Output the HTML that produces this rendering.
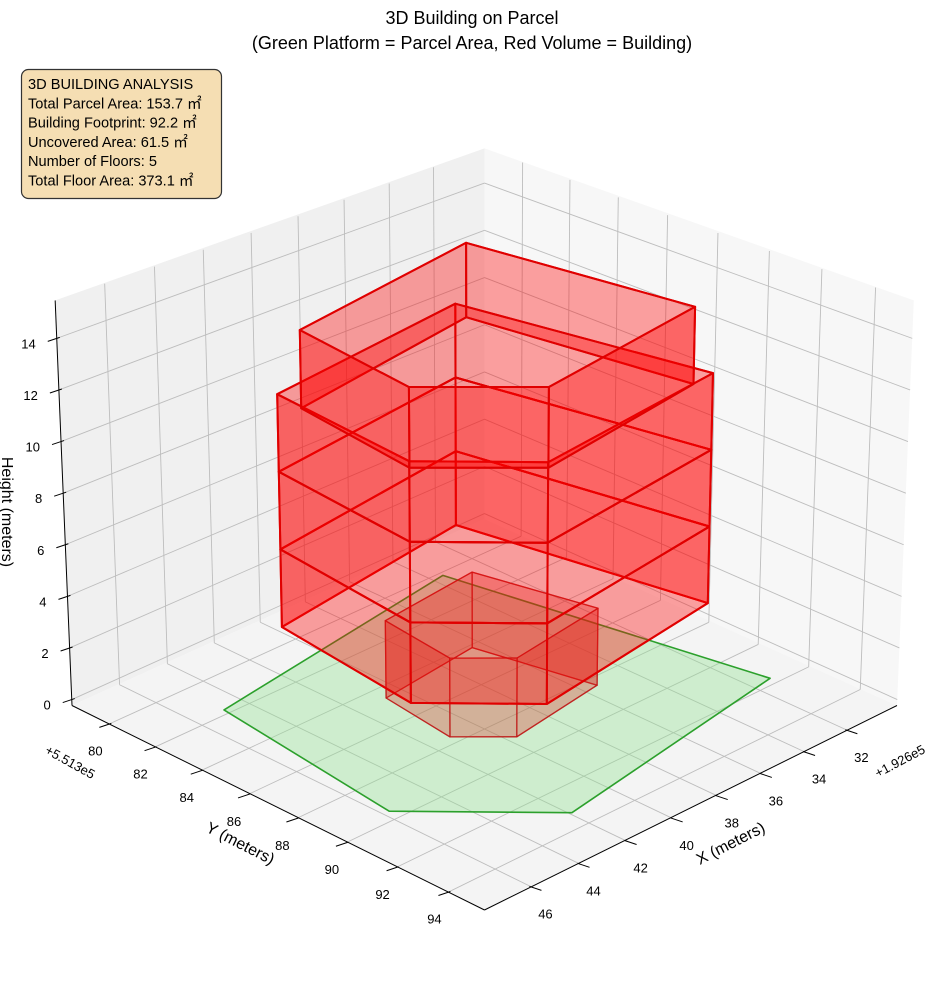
<!DOCTYPE html>
<html><head><meta charset="utf-8"><style>
html,body{margin:0;padding:0;background:#fff;}
svg{display:block;font-family:"Liberation Sans","Noto Sans CJK JP",sans-serif;}
</style></head><body>
<svg id="chart" width="944" height="992" viewBox="0 0 944 992" xmlns="http://www.w3.org/2000/svg">
<g id="panes"></g>
<g id="grid"></g>
<g id="axes"></g>
<g id="marks"></g>
<text x="472" y="24" text-anchor="middle" font-size="18" fill="#000">3D Building on Parcel</text>
<text x="472" y="49" text-anchor="middle" font-size="18" fill="#000">(Green Platform = Parcel Area, Red Volume = Building)</text>
<g>
<rect x="21.5" y="69.5" width="200" height="129" rx="7" fill="#f5deb3" stroke="#333" stroke-width="1.2"/>
<g font-size="14.6" fill="#000">
<text x="28" y="89">3D BUILDING ANALYSIS</text>
<text x="28" y="108.3">Total Parcel Area: 153.7 ㎡</text>
<text x="28" y="127.6">Building Footprint: 92.2 ㎡</text>
<text x="28" y="146.9">Uncovered Area: 61.5 ㎡</text>
<text x="28" y="166.2">Number of Floors: 5</text>
<text x="28" y="185.5">Total Floor Area: 373.1 ㎡</text>
</g></g>
<text transform="translate(2,512) rotate(90)" text-anchor="middle" font-size="16" fill="#000">Height (meters)</text>
<text transform="translate(238,848) rotate(27)" text-anchor="middle" font-size="16" fill="#000">Y (meters)</text>
<text transform="translate(733,848) rotate(-27)" text-anchor="middle" font-size="16" fill="#000">X (meters)</text>
<text transform="translate(68,766) rotate(29)" text-anchor="middle" font-size="13" fill="#000">+5.513e5</text>
<text transform="translate(902,765) rotate(-28)" text-anchor="middle" font-size="13" fill="#000">+1.926e5</text>
</svg>
<script>
// ---- data ----
const xLimits = [29.65, 47.95];
const yLimits = [78.36, 95.4];
const zLimits = [-0.23, 15.47];
const xTicks = [32, 34, 36, 38, 40, 42, 44, 46];
const yTicks = [80, 82, 84, 86, 88, 90, 92, 94];
const zTicks = [0, 2, 4, 6, 8, 10, 12, 14];
const parcelX = [45.03, 33.77, 31.4, 42.14, 45.91];
const parcelY = [81.98, 80.37, 91.9, 93.41, 89.77];
const floor1X = [40.91, 41.29, 39.83, 35.61, 36.61];
const floor1Y = [84.78, 87.80, 89.15, 88.59, 84.32];
const midFloorsX = [43.48, 44.22, 41.40, 32.91, 34.61];
const midFloorsY = [82.96, 89.03, 91.75, 90.63, 81.75];
const topFloorX = [43.70, 44.56, 41.70, 33.96, 35.13];
const topFloorY = [84.18, 89.37, 92.03, 90.77, 82.70];
const floorBase = [0, 3, 6, 9, 12];
const floorHeight = 3;

// ---- projection (axis functions) ----
const NS = 'http://www.w3.org/2000/svg';
const xc = (xLimits[0] + xLimits[1]) / 2, xh = (xLimits[1] - xLimits[0]) / 2;
const yc = (yLimits[0] + yLimits[1]) / 2, yh = (yLimits[1] - yLimits[0]) / 2;
function depthOf(x, y) { return ((y - yc) / yh + (x - xc) / xh) / 2; }
function proj(x, y, z) {
  const a = (x - xc) / xh, b = (y - yc) / yh;
  const t = (a + b) / 2, l = (b - a) / 2;
  const s = 1 / (1 - 0.093 * t);
  const zz = z - zLimits[0];
  const sx = 484.5 + 412.5 * l * s * (1 + 0.0026 * zz);
  const sy = 705.5 + 195.5 * t + 9 * t * t - zz * 25.8 * s;
  return [sx, sy];
}
function ptsStr(list) { return list.map(p => p[0].toFixed(1) + ',' + p[1].toFixed(1)).join(' '); }
function mk(tag, attrs, parent) {
  const e = document.createElementNS(NS, tag);
  for (const k in attrs) e.setAttribute(k, attrs[k]);
  parent.appendChild(e);
  return e;
}
const panes = document.getElementById('panes');
const grid = document.getElementById('grid');
const axes = document.getElementById('axes');
const marks = document.getElementById('marks');
const [x0, x1] = xLimits, [y0, y1] = yLimits, [z0, z1] = zLimits;

let e;
e = mk('polygon', {points: ptsStr([proj(x1,y0,z0), proj(x0,y0,z0), proj(x0,y0,z1), proj(x1,y0,z1)]), fill: '#f0f0f0'}, panes);


e = mk('polygon', {points: ptsStr([proj(x0,y0,z0), proj(x0,y1,z0), proj(x0,y1,z1), proj(x0,y0,z1)]), fill: '#f7f7f7'}, panes);


e = mk('polygon', {points: ptsStr([proj(x1,y1,z0), proj(x1,y0,z0), proj(x0,y0,z0), proj(x0,y1,z0)]), fill: '#f4f4f4'}, panes);



function gline(a, b, name) {
  const l = mk('line', {x1: a[0], y1: a[1], x2: b[0], y2: b[1], stroke: '#bdbdbd', 'stroke-width': 0.9}, grid);
  
  
}
xTicks.forEach(v => {
  gline(proj(v, y0, z0), proj(v, y0, z1), 'grid-x-wall');
  gline(proj(v, y0, z0), proj(v, y1, z0), 'grid-x-floor');
});
yTicks.forEach(v => {
  gline(proj(x0, v, z0), proj(x0, v, z1), 'grid-y-wall');
  gline(proj(x0, v, z0), proj(x1, v, z0), 'grid-y-floor');
});
zTicks.forEach(v => {
  gline(proj(x1, y0, v), proj(x0, y0, v), 'grid-z-left');
  gline(proj(x0, y0, v), proj(x0, y1, v), 'grid-z-right');
});

function aline(a, b, name) {
  const l = mk('line', {x1: a[0], y1: a[1], x2: b[0], y2: b[1], stroke: '#000', 'stroke-width': 1}, axes);
  
  
}
aline(proj(x1, y0, z0), proj(x1, y0, z1), 'z-axis-line');
aline(proj(x1, y0, z0), proj(x1, y1, z0), 'y-axis-line');
aline(proj(x1, y1, z0), proj(x0, y1, z0), 'x-axis-line');
function tlabel(x, y, txt, anchor, name) {
  const t = mk('text', {x: x, y: y, 'text-anchor': anchor, 'font-size': 13, fill: '#000'}, axes);
  t.textContent = txt;
  
  
}
zTicks.forEach(v => {
  const p = proj(x1, y0, v);
  aline([p[0] + 3, p[1] - 1], [p[0] - 9, p[1] + 3], 'z-tick');
  tlabel(p[0] - 21, p[1] + 10, String(v), 'end', 'z-tick-label');
});
yTicks.forEach(v => {
  const p = proj(x1, v, z0);
  aline([p[0] + 3, p[1] - 1], [p[0] - 9, p[1] + 3], 'y-tick');
  tlabel(p[0] - 13, p[1] + 31, String(v), 'middle', 'y-tick-label');
});
xTicks.forEach(v => {
  const p = proj(v, y1, z0);
  aline([p[0] - 3, p[1] - 1], [p[0] + 9, p[1] + 3], 'x-tick');
  tlabel(p[0] + 13, p[1] + 31, String(v), 'middle', 'x-tick-label');
});

// parcel platform
const parcelPts = parcelX.map((x, i) => proj(x, parcelY[i], 0));
e = mk('polygon', {points: ptsStr(parcelPts), fill: 'rgba(144,225,144,0.38)', stroke: '#2ca02c', 'stroke-width': 1.6, 'stroke-linejoin': 'round'}, marks);



// building floors
const faces = [];
function addFloor(fx, fy, zb, idx) {
  const n = fx.length;
  const zt = zb + floorHeight;
  const bottom = [], top = [];
  for (let i = 0; i < n; i++) { bottom.push([fx[i], fy[i], zb]); top.push([fx[i], fy[i], zt]); }
  faces.push({v: bottom, floor: idx, kind: 'bottom'});
  faces.push({v: top, floor: idx, kind: 'top'});
  for (let i = 0; i < n; i++) {
    const j = (i + 1) % n;
    faces.push({v: [bottom[i], bottom[j], top[j], top[i]], floor: idx, kind: 'wall'});
  }
}
floorBase.forEach((zb, i) => {
  if (i === 0) addFloor(floor1X, floor1Y, zb, i);
  else if (i === floorBase.length - 1) addFloor(topFloorX, topFloorY, zb, i);
  else addFloor(midFloorsX, midFloorsY, zb, i);
});
faces.forEach(f => {
  let d = 0, zs = 0;
  f.v.forEach(p => { d += depthOf(p[0], p[1]); zs += p[2]; });
  f.depth = d / f.v.length + zs / f.v.length * 0.001;
});
faces.sort((a, b) => a.depth - b.depth);
faces.forEach(f => {
  const pts = f.v.map(p => proj(p[0], p[1], p[2]));
  const first = f.floor === 0;
  const isWall = f.kind === 'wall';
  const poly = mk('polygon', {
    points: ptsStr(pts),
    fill: isWall ? (first ? 'rgba(220,40,30,0.3)' : 'rgba(255,0,0,0.36)') : 'none',
    stroke: first ? 'rgba(190,20,20,0.7)' : '#e00000',
    'stroke-width': first ? 1.3 : 2,
    'stroke-linejoin': 'round'
  }, marks);
  
  
});
</script>
</body></html>
